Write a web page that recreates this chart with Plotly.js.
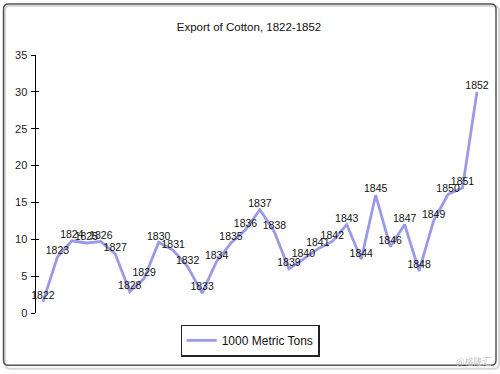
<!DOCTYPE html>
<html>
<head>
<meta charset="utf-8">
<script src="https://cdn.plot.ly/plotly-3.0.1.min.js"></script>
<style>
html,body{margin:0;padding:0;background:#fff;}
#chart{width:500px;height:374px;}
</style>
</head>
<body>
<div id="chart"></div>
<script>
const years = [1822,1823,1824,1825,1826,1827,1828,1829,1830,1831,1832,1833,1834,1835,1836,1837,1838,1839,1840,1841,1842,1843,1844,1845,1846,1847,1848,1849,1850,1851,1852];
const exportsKt = [1.5,7.6,9.8,9.5,9.7,8.0,2.9,4.7,9.6,8.5,6.3,2.7,7.0,9.5,11.3,14.0,11.0,6.0,7.3,8.7,9.7,12.0,7.3,16.0,9.0,12.0,5.7,12.5,16.1,17.0,30.0];
const yearLabels = years.map(String);
const seriesName = '1000 Metric Tons';
const chartTitle = 'Export of Cotton, 1822-1852';
const yTicks = [0,5,10,15,20,25,30,35];

// plot area geometry in pixels (used only for frame conversion)
const L = 36, R = 490, T = 55, B = 313.3, W = 500, H = 374;
const px = x => (x - L) / (R - L);
const py = y => (B - y) / (B - T);
function roundRect(x0, y0, x1, y1, r) {
  const X0 = px(x0), X1 = px(x1), Y0 = py(y0), Y1 = py(y1);
  const rx = r / (R - L), ry = r / (B - T);
  return `M ${X0+rx},${Y0} L ${X1-rx},${Y0} Q ${X1},${Y0} ${X1},${Y0-ry} L ${X1},${Y1+ry} Q ${X1},${Y1} ${X1-rx},${Y1} L ${X0+rx},${Y1} Q ${X0},${Y1} ${X0},${Y1+ry} L ${X0},${Y0-ry} Q ${X0},${Y0} ${X0+rx},${Y0} Z`;
}

const trace = {
  x: years,
  y: exportsKt,
  text: yearLabels,
  mode: 'lines+text',
  name: seriesName,
  textposition: 'top center',
  cliponaxis: false,
  textfont: {family: 'Liberation Sans, Arial, sans-serif', size: 10.5, color: '#111'},
  line: {color: '#9a9ae6', width: 2.8},
  hoverinfo: 'x+y'
};
const trace2 = {
  x: [years[0]], y: [exportsKt[0]], yaxis: 'y2', mode: 'lines',
  showlegend: false, hoverinfo: 'skip', line: {color: 'rgba(0,0,0,0)'}
};

const layout = {
  width: W, height: H,
  margin: {l: L, r: W - R, t: T, b: H - B},
  paper_bgcolor: '#fff',
  plot_bgcolor: '#fff',
  showlegend: true,
  font: {family: 'Liberation Sans, Arial, sans-serif', color: '#111', size: 11},
  title: {
    text: chartTitle,
    font: {family: 'Liberation Sans, Arial, sans-serif', size: 11.5, color: '#111'},
    x: px(249), xanchor: 'center', xref: 'paper',
    y: 1 - 27 / H, yanchor: 'middle', yref: 'container'
  },
  xaxis: {
    range: [1821.52, 1852.9],
    visible: false,
    showgrid: false, zeroline: false
  },
  yaxis: {
    range: [0, 35],
    tickvals: yTicks,
    ticks: 'outside', ticklen: 4, tickwidth: 1, tickcolor: '#000',
    showline: true, linecolor: '#000', linewidth: 1.5,
    showgrid: false, zeroline: false,
    tickfont: {family: 'Liberation Sans, Arial, sans-serif', size: 11, color: '#222'},
    ticklabelstandoff: 1,
    fixedrange: true
  },
  yaxis2: {
    range: [0, 35], overlaying: 'y', side: 'left',
    tickvals: yTicks, ticks: 'inside', ticklen: 3, tickwidth: 1, tickcolor: '#000',
    showticklabels: false, showline: false, showgrid: false, zeroline: false
  },
  legend: {
    orientation: 'h',
    x: px(250), xanchor: 'center',
    y: py(341), yanchor: 'middle',
    bordercolor: '#222', borderwidth: 1.2,
    bgcolor: '#fff',
    itemwidth: 30,
    font: {family: 'Liberation Sans, Arial, sans-serif', size: 12, color: '#111'}
  },
  shapes: [
    {type: 'path', xref: 'paper', yref: 'paper', path: roundRect(5, 6, 499, 369, 5),
     line: {color: '#d8d8d8', width: 2}, layer: 'below'},
    {type: 'path', xref: 'paper', yref: 'paper', path: roundRect(3.5, 4, 496, 365.5, 5),
     line: {color: '#555', width: 1.5}, layer: 'below'}
  ],
  annotations: [
    {text: '@格隆汇', xref: 'paper', yref: 'paper', x: px(494), y: py(362),
     xanchor: 'right', yanchor: 'middle', showarrow: false,
     font: {family: 'Noto Sans CJK SC, sans-serif', size: 9, color: '#c8c8c8'}}
  ]
};

Plotly.newPlot('chart', [trace, trace2], layout, {displayModeBar: false, staticPlot: true});
</script>
</body>
</html>
